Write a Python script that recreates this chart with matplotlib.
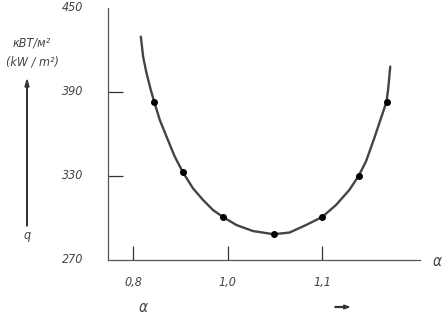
import matplotlib
matplotlib.use("Agg")
import matplotlib.pyplot as plt

# measured points (alpha, q)
alpha_pts = [0.9224, 0.9529, 0.9951, 1.0484, 1.0997, 1.1382, 1.1677]
q_pts = [383.1, 332.5, 300.7, 288.4, 300.7, 330.0, 383.1]

# trace of the drawn curve
alpha_curve = [0.9084, 0.9108, 0.9144, 0.9189, 0.9224, 0.9284, 0.9355, 0.9442,
               0.9529, 0.9635, 0.9740, 0.9845, 0.9951, 1.0092, 1.0266, 1.0484,
               1.0653, 1.0828, 1.0997, 1.1144, 1.1284, 1.1382, 1.1460, 1.1547,
               1.1618, 1.1677, 1.1695, 1.1716]
q_curve = [429.5, 415.2, 403.4, 391.4, 383.1, 370.0, 358.1, 343.8,
           332.5, 321.1, 312.9, 305.7, 300.7, 295.0, 290.7, 288.4,
           289.6, 295.0, 300.7, 309.3, 320.0, 330.0, 340.4, 356.9,
           371.2, 383.1, 392.6, 408.1]

x_ticks = [0.9, 1.0, 1.1]
x_labels = ["0,8", "1,0", "1,1"]
y_ticks = [390, 330]
y_labels = ["450", "390", "330", "270"]
y_label_vals = [450, 390, 330, 270]

txt = dict(color="#444444", style="italic", family="DejaVu Sans", stretch="condensed")

fig = plt.figure(figsize=(4.48, 3.18), dpi=100)
ax = fig.add_axes([0.241, 0.1824, 0.6965, 0.7926])

ax.plot(alpha_curve, q_curve, color="#444444", lw=1.7,
        solid_capstyle="round", solid_joinstyle="round")
ax.plot(alpha_pts, q_pts, "o", color="black", ms=4)

ax.set_xlim(0.8737, 1.203)
ax.set_ylim(270, 450)

for s in ["top", "right"]:
    ax.spines[s].set_visible(False)
for s in ["left", "bottom"]:
    ax.spines[s].set_color("#555555")
    ax.spines[s].set_linewidth(0.9)

ax.set_xticks(x_ticks)
ax.set_xticklabels([])
ax.set_yticks(y_ticks)
ax.set_yticklabels([])
ax.tick_params(axis="x", direction="in", length=10, width=0.9, color="#333333")
ax.tick_params(axis="y", direction="in", length=11, width=0.9, color="#333333")

# tick labels placed like the drawing
for xv, lab in zip(x_ticks, x_labels):
    ax.annotate(lab, (xv, 270), xytext=(0, -23), textcoords="offset pixels",
                ha="center", va="center", fontsize=9, **txt)
for yv, lab in zip(y_label_vals, y_labels):
    ax.annotate(lab, (0.8737, yv), xytext=(-25, 0), textcoords="offset pixels",
                ha="right", va="center", fontsize=9, **txt)

# axis captions
fig.text(437 / 448, 1 - 262 / 318, "α", ha="center", va="center", fontsize=11, **txt)
fig.text(143 / 448, 1 - 307 / 318, "α", ha="center", va="center", fontsize=11, **txt)
fig.text(32 / 448, 1 - 43 / 318, "кВТ/м²", ha="center", va="center", fontsize=9, **txt)
fig.text(32 / 448, 1 - 62 / 318, "(kW / m²)", ha="center", va="center", fontsize=9, **txt)
fig.text(27 / 448, 1 - 236 / 318, "q", ha="center", va="center", fontsize=9, **txt)

# arrows
fig.patches.append(matplotlib.patches.FancyArrow(
    27 / 448, 1 - 226 / 318, 0, (226 - 80) / 318, width=0.0012,
    head_width=0.009, head_length=0.022, length_includes_head=True,
    color="#333333", transform=fig.transFigure))
fig.patches.append(matplotlib.patches.FancyArrow(
    335 / 448, 1 - 307 / 318, 14 / 448, 0, width=0.0025,
    head_width=0.012, head_length=0.012, length_includes_head=True,
    color="#333333", transform=fig.transFigure))

fig.savefig("out.png", dpi=100)
